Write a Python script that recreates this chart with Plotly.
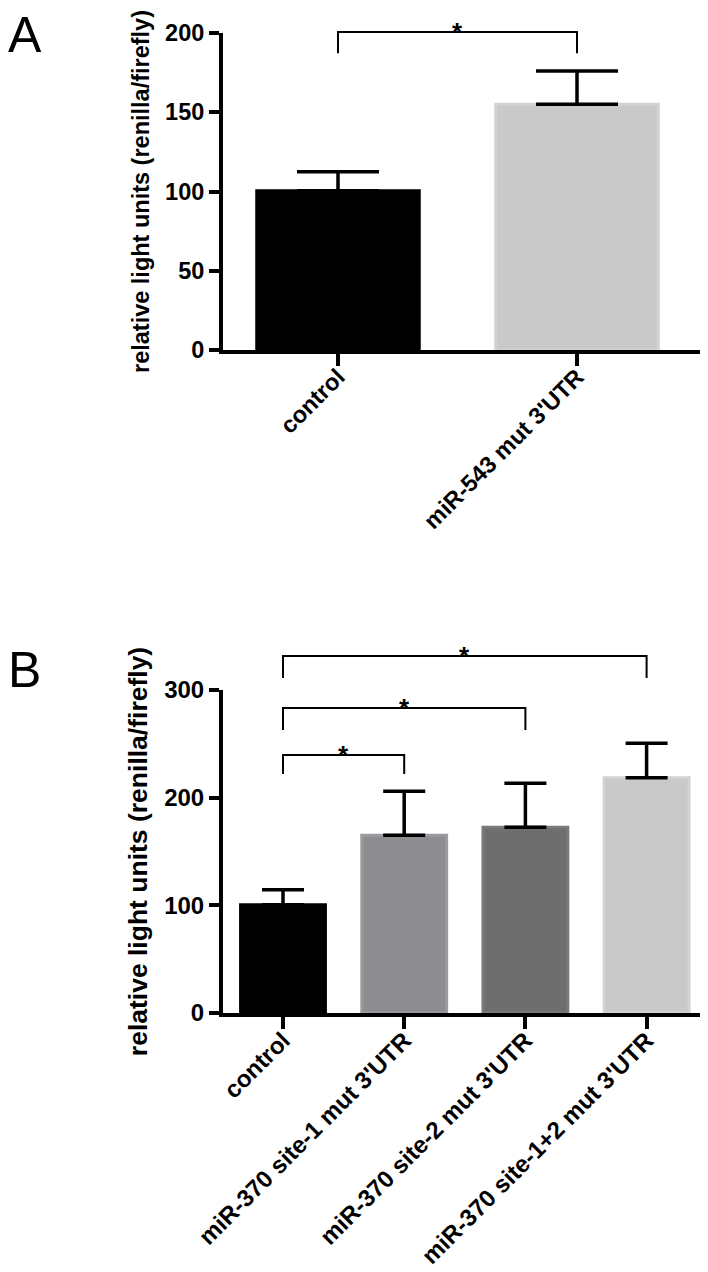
import plotly.graph_objects as go
import numpy as np

# ---- Panel A data ----
cats_a = ["control", "miR-543 mut 3'UTR"]
vals_a = [100.5, 155]
err_a = [12, 21]
colors_a = ["#000000", "#c9c9c9"]
edge_a = ["#000000", "#d2d2d2"]
yticks_a = [0, 50, 100, 150, 200]
# bracket: (from index, to index, line level, leg bottom)
brackets_a = [(0, 1, 200.6, 187.3)]

# ---- Panel B data ----
cats_b = ["control", "miR-370 site-1 mut 3'UTR", "miR-370 site-2 mut 3'UTR",
          "miR-370 site-1+2 mut 3'UTR"]
vals_b = [100.5, 165, 172.5, 218.5]
err_b = [14, 41, 41, 32]
colors_b = ["#000000", "#8d8d91", "#6e6e6e", "#c9c9c9"]
edge_b = ["#000000", "#9b9b9f", "#7a7a7a", "#d2d2d2"]
yticks_b = [0, 100, 200, 300]
brackets_b = [(0, 1, 239.6, 222.0), (0, 2, 283.3, 262.8), (0, 3, 331.6, 311.1)]

# page body has an 8px margin, so the figure is sized/placed to compensate
W, H = 700, 1264
ML, MR = 215, 1
PW = W - ML - MR
FONT = "Liberation Sans, Arial, Helvetica, sans-serif"

# vertical layout (figure px from top)
A_TOP, A_BOT, A_EXT = 25, 342, 0
B_TOP, B_BOT, B_EXT = 682, 1005, 620
YMAX_A, YMAX_B = 200, 300


def dom(top, bot):
    return [1 - bot / H, 1 - top / H]


fig = go.Figure()


def add_panel(cats, vals, errs, cols, edges, brackets, xa, ya, yext, width, capw, star_size):
    xs = np.arange(len(cats))
    fig.add_trace(go.Bar(
        x=xs, y=vals, width=width,
        marker=dict(color=cols, line=dict(color=edges, width=3)),
        error_y=dict(type="data", symmetric=False, array=errs,
                     arrayminus=[0] * len(errs), color="black",
                     thickness=3.5, width=capw),
        xaxis=xa, yaxis=ya, showlegend=False, hoverinfo="skip"))
    for (i0, i1, lvl, leg) in brackets:
        fig.add_trace(go.Scatter(
            x=[xs[i0], xs[i0], xs[i1], xs[i1]], y=[leg, lvl, lvl, leg],
            mode="lines", line=dict(color="black", width=2),
            xaxis=xa, yaxis=yext, showlegend=False, hoverinfo="skip"))
        fig.add_annotation(x=(xs[i0] + xs[i1]) / 2, y=lvl, text="*",
                           xref=xa, yref=yext, showarrow=False,
                           yanchor="middle", yshift=0,
                           font=dict(family=FONT, size=star_size, color="black",
                                     weight="bold"))


add_panel(cats_a, vals_a, err_a, colors_a, edge_a, brackets_a, "x", "y", "y3", 0.68, 41, 26)
add_panel(cats_b, vals_b, err_b, colors_b, edge_b, brackets_b, "x2", "y2", "y4", 0.70, 21, 26)


def xax(size, rng, cats, anchor):
    return dict(showline=True, linewidth=4, linecolor="black", ticks="outside",
                ticklen=12, tickwidth=4, tickcolor="black", showgrid=False,
                zeroline=False, tickangle=-45, automargin=False, domain=[0, 1],
                tickfont=dict(family=FONT, size=size, color="black", weight="bold"),
                ticklabelstandoff=-12, range=rng,
                tickvals=list(range(len(cats))), ticktext=cats, anchor=anchor)


def yax(size, tsize, ymax, ticks, anchor, domain):
    return dict(showline=True, linewidth=4, linecolor="black", ticks="outside",
                ticklen=10, tickwidth=4, tickcolor="black", showgrid=False,
                zeroline=False, automargin=False, range=[0, ymax],
                tickvals=ticks, anchor=anchor, domain=domain,
                tickfont=dict(family=FONT, size=size, color="black", weight="bold"),
                title=dict(text="relative light units (renilla/firefly)",
                           font=dict(family=FONT, size=tsize, color="black",
                                     weight="bold"), standoff=10))


# category spacing in px and positions of first tick (figure px)
sp_a, c0_a = 239, 330
sp_b, c0_b = 121.2, 275
rng_a = [-(c0_a - ML) / sp_a, -(c0_a - ML) / sp_a + PW / sp_a]
rng_b = [-(c0_b - ML) / sp_b, -(c0_b - ML) / sp_b + PW / sp_b]

fig.update_layout(
    width=W, height=H,
    margin=dict(l=ML, r=MR, t=0, b=0),
    paper_bgcolor="white", plot_bgcolor="rgba(0,0,0,0)",
    xaxis=xax(23.5, rng_a, cats_a, "y"),
    yaxis=yax(23.5, 23.5, YMAX_A, yticks_a, "x", dom(A_TOP, A_BOT)),
    yaxis3=dict(visible=False, anchor="x", domain=dom(A_EXT, A_BOT),
                range=[0, YMAX_A * (A_BOT - A_EXT) / (A_BOT - A_TOP)]),
    xaxis2=xax(24, rng_b, cats_b, "y2"),
    yaxis2=yax(24, 26.5, YMAX_B, yticks_b, "x2", dom(B_TOP, B_BOT)),
    yaxis4=dict(visible=False, anchor="x2", domain=dom(B_EXT, B_BOT),
                range=[0, YMAX_B * (B_BOT - B_EXT) / (B_BOT - B_TOP)]),
)

for lab, ypx in [("A", 27.5), ("B", 661.5)]:
    fig.add_annotation(text=lab, xref="paper", yref="paper",
                       x=(-2 - ML) / PW, y=1 - ypx / H, xanchor="left",
                       yanchor="middle", showarrow=False,
                       font=dict(family=FONT, size=50, color="black"))

fig.write_html("out.html")
